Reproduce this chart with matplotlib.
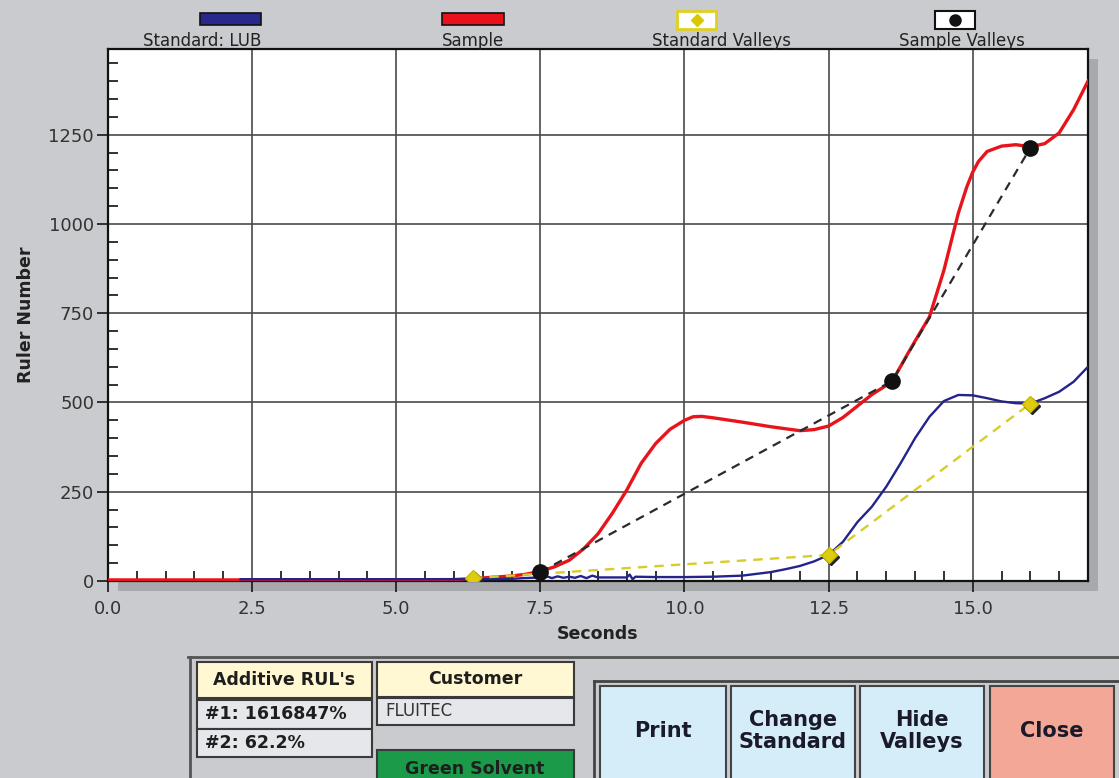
import numpy as np
import matplotlib
matplotlib.use("Agg")
import matplotlib.pyplot as plt
from matplotlib.patches import Rectangle
from matplotlib import transforms

# standard (LUB) voltammogram
std_t = [2.3, 4.0, 6.5, 7.0, 7.2, 7.5, 7.6, 7.7, 7.8, 7.9, 8.0, 8.1, 8.2, 8.3, 8.4, 8.5,
         9.0, 9.05, 9.1, 9.15, 9.5, 10.0, 10.5, 11.0, 11.5, 11.75, 12.0, 12.25, 12.5,
         12.75, 13.0, 13.25, 13.5, 13.75, 14.0, 14.25, 14.5, 14.75, 15.0, 15.25, 15.5,
         15.75, 16.0, 16.25, 16.5, 16.75, 17.0]
std_v = [5, 5, 5, 6, 8, 10, 14, 8, 13, 9, 12, 9, 14, 8, 15, 10,
         10, 18, 5, 12, 11, 11, 12, 15, 25, 33, 42, 55, 73,
         110, 165, 208, 264, 330, 400, 460, 504, 521, 520, 512, 503,
         498, 497, 512, 530, 558, 600]

# sample voltammogram
smp_t = [0.0, 2.0, 4.0, 6.0, 6.45, 7.0, 7.25, 7.5, 7.75, 8.0, 8.25, 8.5, 8.75, 9.0,
         9.25, 9.5, 9.75, 10.0, 10.15, 10.3, 10.5, 10.75, 11.0, 11.5, 12.0, 12.25, 12.5,
         12.75, 13.0, 13.25, 13.6, 13.85, 14.0, 14.25, 14.5, 14.75, 14.9, 15.0, 15.1,
         15.25, 15.5, 15.75, 16.0, 16.25, 16.5, 16.75, 17.0]
smp_v = [3, 3, 3, 4, 8, 14, 19, 27, 40, 58, 90, 132, 190, 255,
         330, 385, 425, 450, 460, 461, 457, 451, 445, 432, 421, 424, 434,
         458, 490, 522, 558, 630, 672, 740, 870, 1030, 1105, 1145, 1175,
         1203, 1218, 1222, 1216, 1225, 1255, 1320, 1400]

# valley picks
std_valley_t = [6.33, 12.5, 16.0]
std_valley_v = [8, 73, 497]
smp_valley_t = [7.5, 13.6, 16.0]
smp_valley_v = [25, 560, 1213]

legend_names = ["Standard: LUB", "Sample", "Standard Valleys", "Sample Valleys"]
rul_lines = ["#1: 1616847%", "#2: 62.2%"]
customer = "FLUITEC"
solvent = "Green Solvent"
buttons = ["Print", "Change\nStandard", "Hide\nValleys", "Close"]

W, H = 1119, 778
BG = "#c9cbce"
DARK = "#3a3a3a"

plt.rcParams['font.family'] = ['DejaVu Sans']
fig = plt.figure(figsize=(W / 100, H / 100), dpi=100, facecolor=BG)


def box(x0, y0, x1, y1, fc, ec=DARK, lw=1.5, z=1):
    r = Rectangle((x0 / W, 1 - y1 / H), (x1 - x0) / W, (y1 - y0) / H,
                  transform=fig.transFigure, fc=fc, ec=ec, lw=lw, zorder=z)
    fig.add_artist(r)
    return r


def label(x, y, s, **kw):
    fig.text(x / W, 1 - y / H, s, **kw)


def hline(x0, x1, y, **kw):
    fig.add_artist(plt.Line2D([x0 / W, x1 / W], [1 - y / H, 1 - y / H],
                              transform=fig.transFigure, **kw))


def vline(x, y0, y1, **kw):
    fig.add_artist(plt.Line2D([x / W, x / W], [1 - y0 / H, 1 - y1 / H],
                              transform=fig.transFigure, **kw))


# drop shadow behind the plot area
box(118, 59, 1098, 591, "#a7a9ac", ec="none", lw=0, z=-1)

ax = fig.add_axes([108 / W, 1 - 581 / H, 980 / W, 532 / H])
ax.set_facecolor("white")
ax.set_xlim(0, 17)
ax.set_ylim(0, 1490)

ax.plot(smp_t, smp_v, color="#e8141c", lw=2.4, zorder=3, solid_joinstyle="round")
ax.plot(std_t, std_v, color="#23238c", lw=1.7, zorder=4, solid_joinstyle="round")

# valley connectors
ax.plot(std_valley_t, std_valley_v, ls=(0, (4, 3)), color="#d6cc2a", lw=1.7, zorder=5)
ax.plot(smp_valley_t, smp_valley_v, ls=(0, (4, 3)), color="#2a2a2a", lw=1.6, zorder=5)

shadow = transforms.offset_copy(ax.transData, fig=fig, x=1.5, y=-1.5, units="points")
ax.plot(std_valley_t, std_valley_v, "D", ms=8, color="#222222", transform=shadow, zorder=6)
ax.plot(std_valley_t, std_valley_v, "D", ms=8, mfc="#dccd10", mec="#c9ba00", zorder=7)
ax.plot(smp_valley_t, smp_valley_v, "o", ms=11, color="#111111", zorder=7)

ax.set_xticks(np.arange(0, 16, 2.5))
ax.set_xticklabels([f"{v:.1f}" for v in np.arange(0, 16, 2.5)])
ax.set_xticks(np.arange(0, 17.01, 0.5), minor=True)
ax.set_yticks(np.arange(0, 1251, 250))
ax.set_yticks(np.arange(0, 1490, 50), minor=True)
ax.tick_params(which="major", direction="out", length=8, width=1.3, color="#222",
               labelsize=13, labelcolor="#333")
ax.tick_params(axis="x", which="major", pad=6)
ax.tick_params(axis="y", which="major", pad=2)
ax.tick_params(which="minor", direction="in", length=7, width=1.3, color="#222")
ax.grid(which="major", color="#4a4a4a", lw=1.2)
ax.set_axisbelow(True)
for sp in ax.spines.values():
    sp.set_linewidth(1.6)
    sp.set_color("#111")

ax.set_xlabel("Seconds", fontsize=12.5, fontweight="bold", color="#222", labelpad=5)
ax.set_ylabel("Ruler Number", fontsize=12.5, fontweight="bold", color="#222", labelpad=10)

# legend row across the top
box(200, 13, 261, 25, "#28288c", ec="#111", lw=1.2)
box(442, 13, 504, 25, "#e8121c", ec="#111", lw=1.2)
box(677, 11, 716, 29, "white", ec="#e0d020", lw=2)
box(935, 11, 975, 29, "white", ec="#111", lw=1.5)
fig.add_artist(plt.Line2D([697 / W], [1 - 20 / H], marker="D", ms=6, color="#d8c800",
                          transform=fig.transFigure))
fig.add_artist(plt.Line2D([955 / W], [1 - 20 / H], marker="o", ms=8, color="#111",
                          transform=fig.transFigure))
for name, cx in zip(legend_names, [202, 473, 721, 962]):
    label(cx, 41, name, ha="center", va="center", fontsize=12, color="#222")

# result panel
hline(188, 1119, 657, color="#555", lw=2)
vline(190, 657, 778, color="#555", lw=2)

bold = dict(fontsize=12.5, fontweight="bold", color="#1e1e1e", va="center")
box(197, 662, 372, 698, "#fff8d2")
label(284, 680, "Additive RUL's", ha="center", **bold)
box(197, 700, 372, 729, "#e6e7ea")
label(205, 714, rul_lines[0], ha="left", **bold)
box(197, 729, 372, 757, "#e6e7ea")
label(205, 743, rul_lines[1], ha="left", **bold)

box(377, 662, 574, 697, "#fff8d2")
label(475, 679, "Customer", ha="center", **bold)
box(377, 698, 574, 725, "#e6e7ea")
label(385, 711, customer, ha="left", va="center", fontsize=12, color="#333")
box(377, 750, 574, 790, "#1b9a4a")
label(475, 769, solvent, ha="center", **bold)

# button bar
hline(594, 1119, 681, color="#444", lw=2)
vline(594, 681, 778, color="#444", lw=2)
btn_x = [(600, 726), (731, 855), (860, 984), (990, 1114)]
btn_fc = ["#d5edf9", "#d5edf9", "#d5edf9", "#f3a797"]
for (x0, x1), fc, txt in zip(btn_x, btn_fc, buttons):
    box(x0, 686, x1, 790, fc, ec="#444", lw=1.5)
    label((x0 + x1) / 2, 731, txt, ha="center", va="center", fontsize=15,
          fontweight="bold", color="#1a1a2a", linespacing=1.1)

fig.savefig("out.png", dpi=100, facecolor=BG)
